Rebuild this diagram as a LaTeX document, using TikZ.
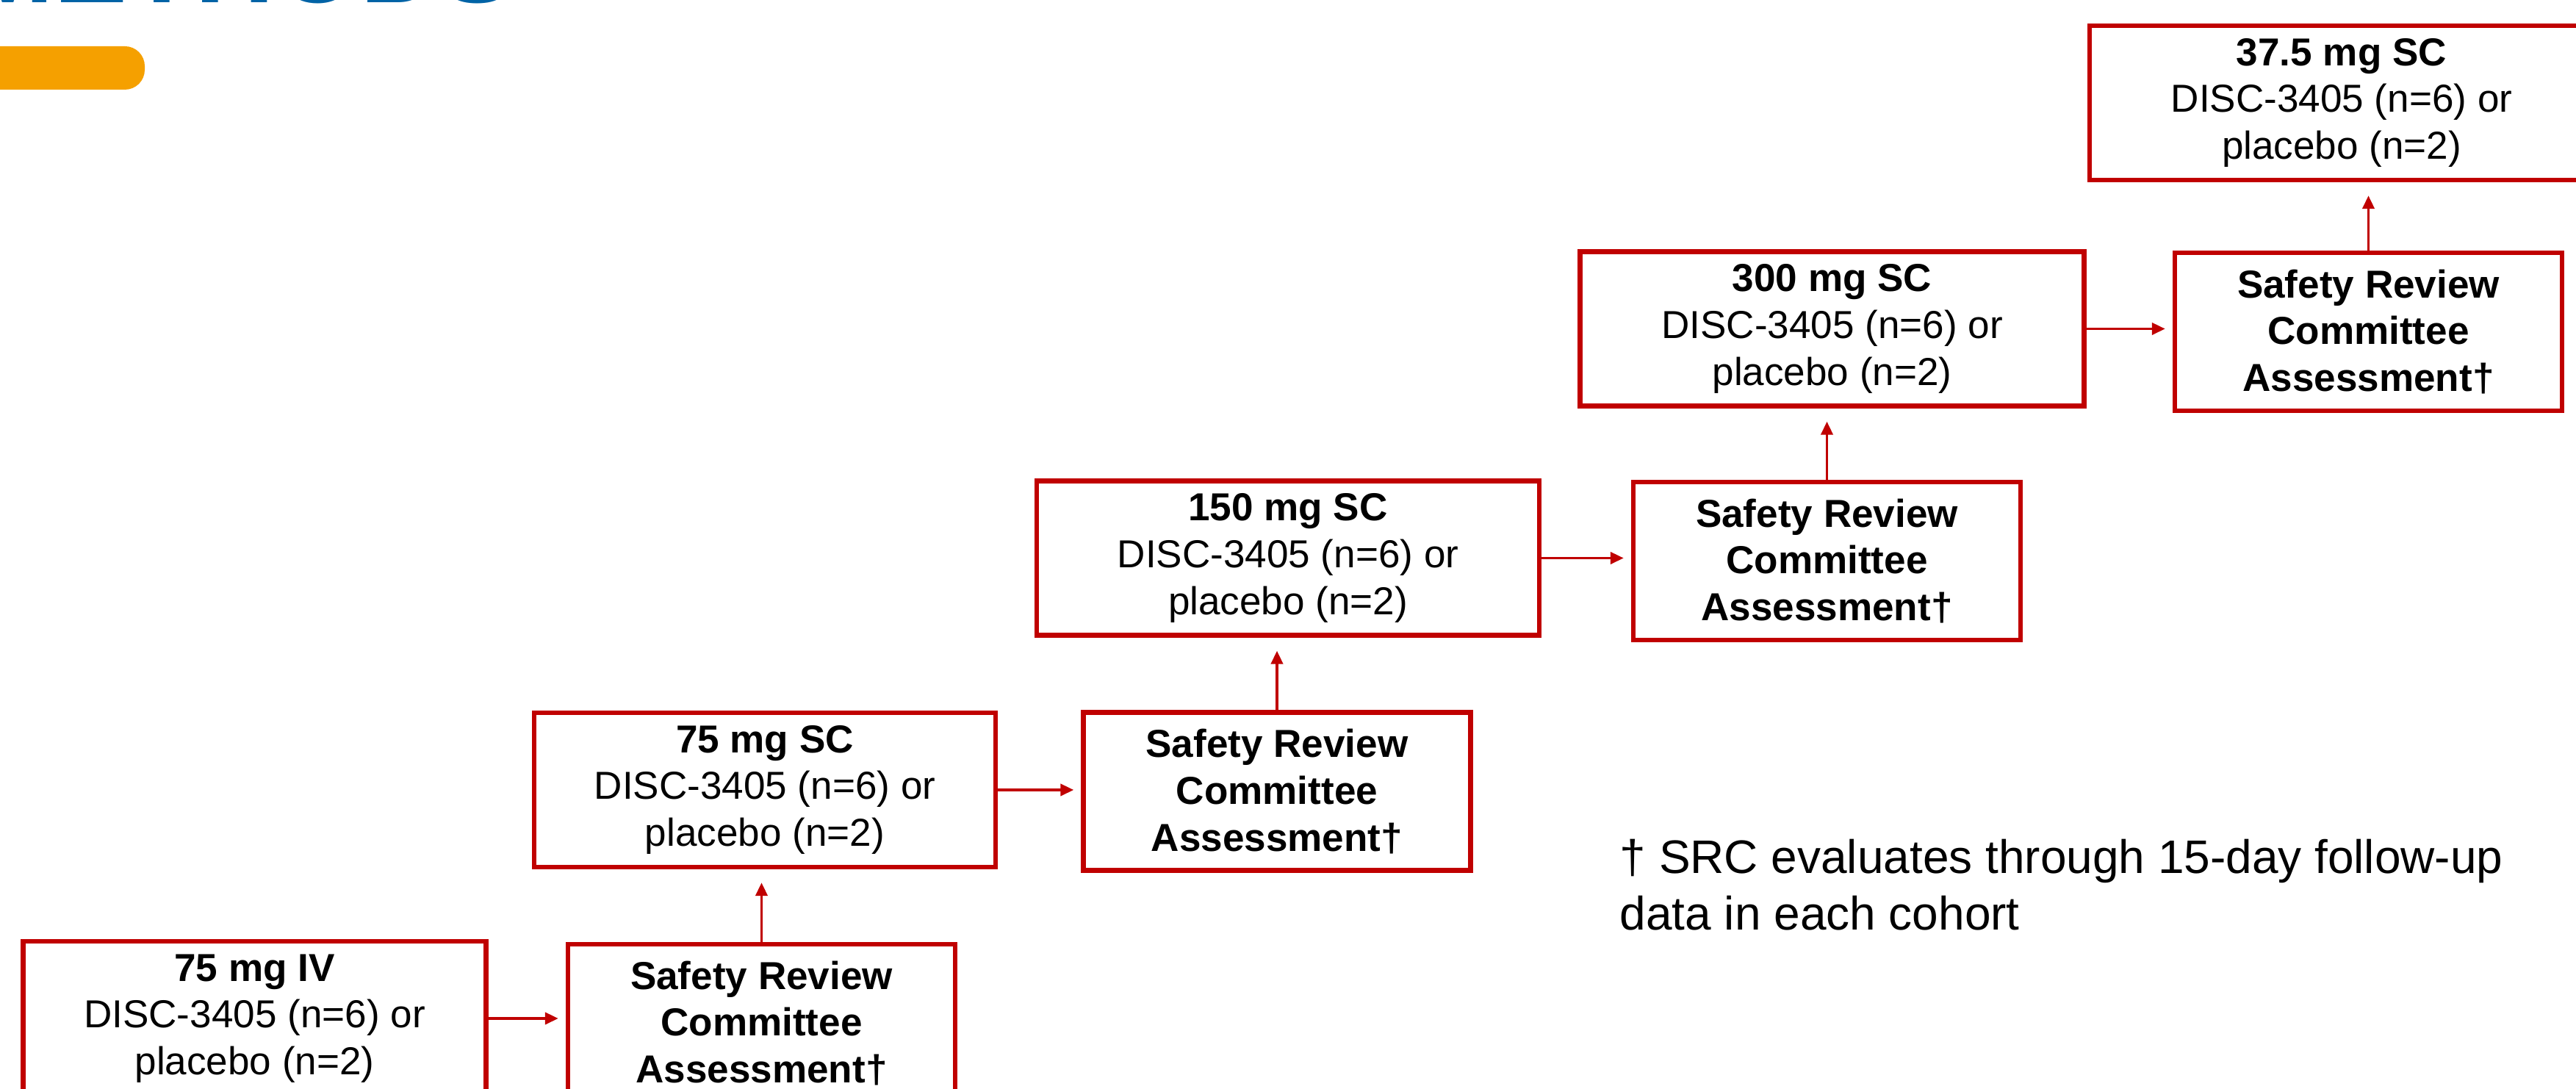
\documentclass[tikz,border=0pt]{standalone}
\usepackage{fontspec}
\setmainfont{Liberation Sans}
\usetikzlibrary{arrows.meta,positioning,calc}
\definecolor{boxred}{RGB}{192,0,0}
\definecolor{titleblue}{RGB}{0,99,166}
\definecolor{barorange}{RGB}{245,160,0}

\begin{document}
\begin{tikzpicture}[
  dosebox/.style={
    draw=boxred,
    line width=1.8pt,
    fill=white,
    align=center,
    minimum height=2.1cm,
    inner sep=2pt,
    font=\fontsize{15.1}{18.1}\selectfont
  },
  srcbox/.style={
    dosebox,
    minimum width=5.27cm,
    minimum height=2.15cm,
    font=\fontsize{15.1}{18.1}\selectfont\bfseries
  },
  flow/.style={
    draw=boxred,
    line width=1.1pt,
    -{Triangle[length=1.8mm,width=1.6mm]}
  }
]

\useasboundingbox (0,0) rectangle (35.06,14.82);
\clip (0,0) rectangle (35.06,14.82);

% ---- Title strip (cut off at the top) ----
\node[
  anchor=base east,
  inner sep=0,
  text=titleblue,
  font=\fontsize{42.7}{50}\selectfont\bfseries
] (title) at (7.0,14.78) {METHODS};
\fill[barorange, rounded corners=0.27cm] (-0.6,13.60) rectangle (1.97,14.19);

% ---- Dose cohorts ----
\node[dosebox, minimum width=6.3cm] (iv75) at (3.465,0.96)
  {\textbf{75 mg IV}\\DISC-3405 (n=6) or\\placebo (n=2)};
\node[dosebox, minimum width=6.28cm] (sc75) at (10.41,4.07)
  {\textbf{75 mg SC}\\DISC-3405 (n=6) or\\placebo (n=2)};
\node[dosebox, minimum width=6.84cm] (sc150) at (17.53,7.225)
  {\textbf{150 mg SC}\\DISC-3405 (n=6) or\\placebo (n=2)};
\node[dosebox, minimum width=6.86cm] (sc300) at (24.935,10.345)
  {\textbf{300 mg SC}\\DISC-3405 (n=6) or\\placebo (n=2)};
\node[dosebox, minimum width=6.86cm] (sc375) at (31.87,13.42)
  {\textbf{37.5 mg SC}\\DISC-3405 (n=6) or\\placebo (n=2)};

% ---- Safety review steps ----
\node[srcbox] (src1) at (10.365,0.895) {Safety Review\\Committee\\Assessment†};
\node[srcbox] (src2) at (17.38,4.05) {Safety Review\\Committee\\Assessment†};
\node[srcbox] (src3) at (24.865,7.185) {Safety Review\\Committee\\Assessment†};
\node[srcbox] (src4) at (32.235,10.305) {Safety Review\\Committee\\Assessment†};

% ---- Arrows ----
\foreach \d/\s in {iv75/src1,sc75/src2,sc150/src3,sc300/src4} {
  \draw[flow, shorten >=1mm] (\d.east) -- (\d.east -| \s.west);
}
\foreach \s/\d in {src1/sc75,src2/sc150,src3/sc300,src4/sc375} {
  \draw[flow, shorten >=1.8mm] (\s.north) -- (\s.north |- \d.south);
}

% ---- Footnote ----
\node[
  anchor=west,
  inner sep=0,
  align=left,
  font=\fontsize{18.2}{21.8}\selectfont
] (note) at (22.04,2.78)
{† SRC evaluates through 15-day follow-up\\data in each cohort};

\end{tikzpicture}
\end{document}
